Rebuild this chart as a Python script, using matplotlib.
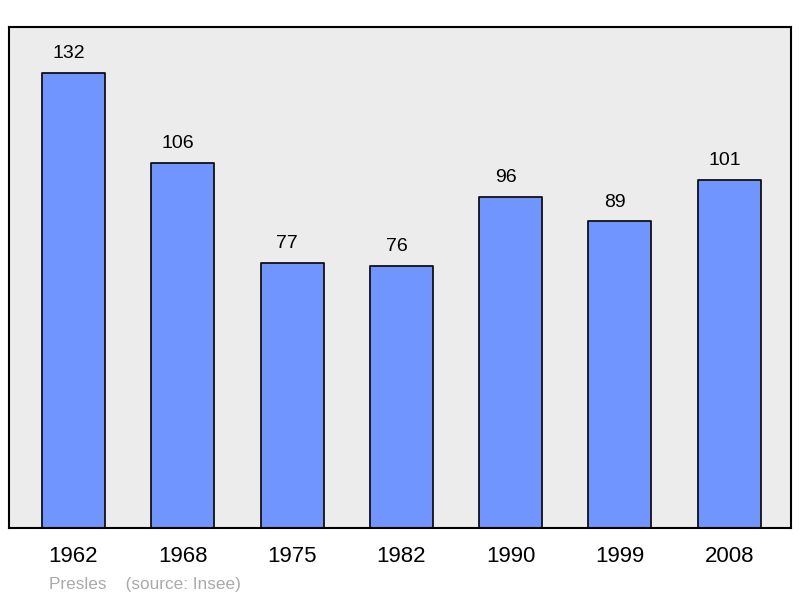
import matplotlib
matplotlib.use("Agg")
import matplotlib.pyplot as plt

years = ["1962", "1968", "1975", "1982", "1990", "1999", "2008"]
population = [132, 106, 77, 76, 96, 89, 101]

plt.rcParams['font.family'] = ['Liberation Sans', 'DejaVu Sans']

W, H = 800, 598
fig = plt.figure(figsize=(W/100, H/100), dpi=100)
ax = fig.add_axes([9/W, (H-528)/H, 782/W, 501/H])
ax.set_facecolor('#ececec')
x = list(range(len(years)))
ax.bar(x, population, width=0.577, color='#7095ff', edgecolor='#111111', linewidth=1.3,
       zorder=2, joinstyle='round')
for xi, v in zip(x, population):
    ax.annotate(str(v), (xi, v), xytext=(-3.4, 10.5), textcoords='offset points',
                ha='center', va='baseline', fontsize=14)
ax.set_xlim(-0.59, 6.565)
ax.set_ylim(0, 145.3)
ax.set_yticks([])
ax.set_xticks(x)
ax.set_xticklabels(years, fontsize=16)
ax.tick_params(axis='x', length=0, pad=13)
for s in ax.spines.values():
    s.set_linewidth(1.5)
    s.set_color('black')
fig.text(49/W, 1-585/H, "Presles    (source: Insee)", color='#aaaaaa', fontsize=12.4,
         ha='left', va='center')
fig.savefig("out.png", dpi=100)
